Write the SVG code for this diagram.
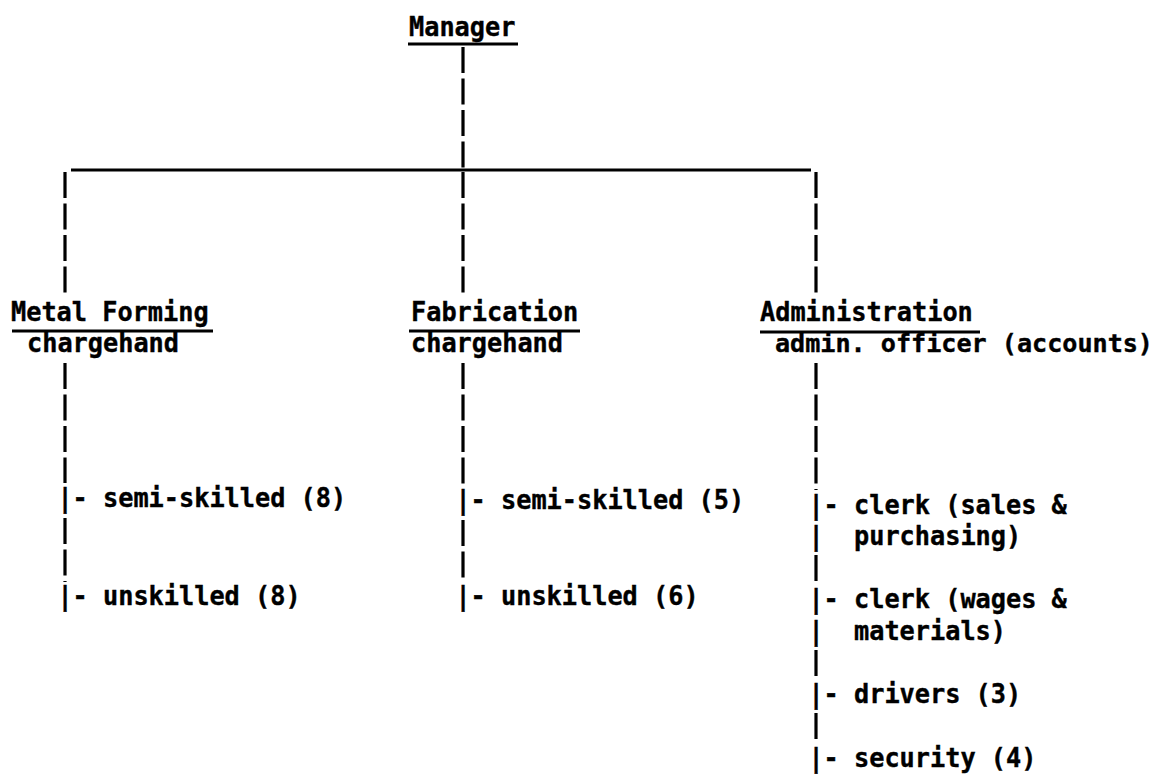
<svg xmlns="http://www.w3.org/2000/svg" width="1165" height="774" viewBox="0 0 1165 774">
  <style>
    .t { font-family: "DejaVu Sans Mono", "Liberation Mono", monospace; font-weight: bold; font-size: 27px; fill: #000; stroke: #000; stroke-width: 0.4; white-space: pre; }
    .rule { stroke: #000; stroke-width: 3; fill: none; }
    .dash { stroke: #000; stroke-width: 3.2; fill: none; stroke-dasharray: 26 5.5; }
  </style>
  <rect width="1165" height="774" fill="#fff"/>

  <!-- connectors: typed vertical bars and the horizontal branch rule -->
  <g id="connectors">
    <path class="dash" d="M463 47 V168"/>
    <path class="rule" d="M71 170 H811"/>
    <path class="dash" d="M65 172 V295"/>
    <path class="dash" d="M463 172 V295"/>
    <path class="dash" d="M816 172 V295"/>
    <!-- metal forming column -->
    <path class="dash" d="M65 363 V483"/>
    <path class="dash" d="M65 518 V582"/>
    <!-- fabrication column -->
    <path class="dash" d="M463 363 V485"/>
    <path class="dash" d="M463 520 V582"/>
    <!-- administration column -->
    <path class="dash" d="M816 363 V490"/>
    <path class="dash" d="M816 555 V584"/>
    <path class="dash" d="M816 650 V679"/>
    <path class="dash" d="M816 713 V743"/>
  </g>

  <!-- 15.2px typewriter pitch: textLength = characters x 15.2 -->
  <g id="manager">
    <text class="t" x="409" y="36" textLength="106.4" lengthAdjust="spacingAndGlyphs">Manager</text>
    <path class="rule" d="M408 44 H518"/>
  </g>

  <g id="metal-forming">
    <text class="t" x="11" y="321" textLength="197.6" lengthAdjust="spacingAndGlyphs">Metal Forming</text>
    <path class="rule" d="M12 331 H213"/>
    <text class="t" x="27" y="352" textLength="152" lengthAdjust="spacingAndGlyphs">chargehand</text>
  </g>

  <g id="fabrication">
    <text class="t" x="411" y="321" textLength="167.2" lengthAdjust="spacingAndGlyphs">Fabrication</text>
    <path class="rule" d="M409 331 H580"/>
    <text class="t" x="411" y="352" textLength="152" lengthAdjust="spacingAndGlyphs">chargehand</text>
  </g>

  <g id="administration">
    <text class="t" x="760" y="321" textLength="212.8" lengthAdjust="spacingAndGlyphs">Administration</text>
    <path class="rule" d="M760 332 H980"/>
    <text class="t" x="775" y="352" style="font-size:25.4px" textLength="378" lengthAdjust="spacingAndGlyphs">admin. officer (accounts)</text>
  </g>

  <g id="metal-forming-staff">
    <text class="t" x="57.4" y="507" textLength="288.8" lengthAdjust="spacingAndGlyphs">|- semi-skilled (8)</text>
    <text class="t" x="57.4" y="605" textLength="243.2" lengthAdjust="spacingAndGlyphs">|- unskilled (8)</text>
  </g>

  <g id="fabrication-staff">
    <text class="t" x="455.4" y="509" textLength="288.8" lengthAdjust="spacingAndGlyphs">|- semi-skilled (5)</text>
    <text class="t" x="455.4" y="605" textLength="243.2" lengthAdjust="spacingAndGlyphs">|- unskilled (6)</text>
  </g>

  <g id="administration-staff">
    <text class="t" x="808.4" y="514" textLength="258.4" lengthAdjust="spacingAndGlyphs">|- clerk (sales &amp;</text>
    <text class="t" x="808.4" y="545" textLength="212.8" lengthAdjust="spacingAndGlyphs">|  purchasing)</text>
    <text class="t" x="808.4" y="608" textLength="258.4" lengthAdjust="spacingAndGlyphs">|- clerk (wages &amp;</text>
    <text class="t" x="808.4" y="640" textLength="197.6" lengthAdjust="spacingAndGlyphs">|  materials)</text>
    <text class="t" x="808.4" y="703" textLength="212.8" lengthAdjust="spacingAndGlyphs">|- drivers (3)</text>
    <text class="t" x="808.4" y="767" textLength="228" lengthAdjust="spacingAndGlyphs">|- security (4)</text>
  </g>
</svg>
